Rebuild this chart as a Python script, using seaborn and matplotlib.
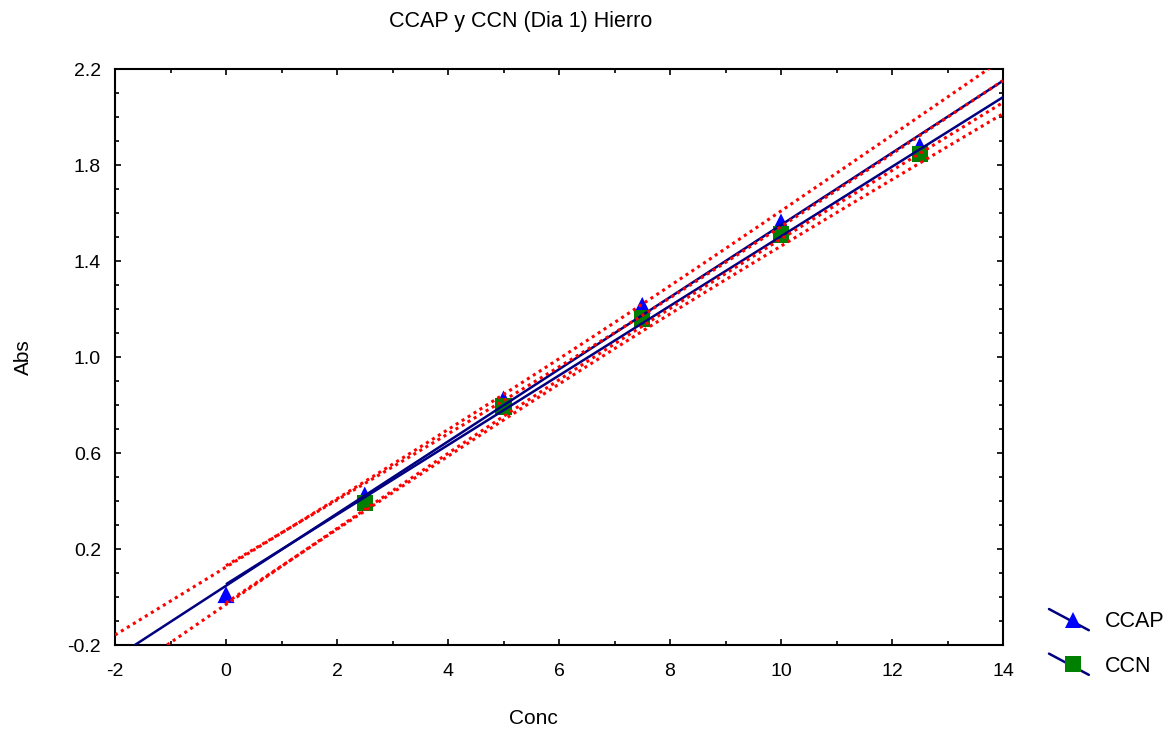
import numpy as np
import pandas as pd
import matplotlib
matplotlib.use("Agg")
import matplotlib.pyplot as plt
import seaborn as sns
from matplotlib.lines import Line2D
from matplotlib.legend_handler import HandlerBase
from matplotlib.ticker import MultipleLocator, FormatStrFormatter

# ---------------- data ----------------
series_names = ["CCAP", "CCN"]
conc_ccap = [0.0, 2.5, 5.0, 7.5, 10.0, 12.5]
abs_ccap = [0.010, 0.425, 0.825, 1.215, 1.5625, 1.880]
conc_ccn = [2.5, 5.0, 7.5, 10.0, 12.5]
abs_ccn = [0.392, 0.794, 1.160, 1.510, 1.846]
fit_ranges = [(-2.0, 14.0), (0.0, 14.0)]
t_crit = [2.776, 3.182]          # 95% two-sided Student t, df = n - 2
x_ticks = [-2, 0, 2, 4, 6, 8, 10, 12, 14]
y_ticks = [-0.2, 0.2, 0.6, 1.0, 1.4, 1.8, 2.2]
title = "CCAP y CCN (Dia 1) Hierro"
x_label = "Conc"
y_label = "Abs"

# ---------------- style ----------------
sns.set_style("ticks")
plt.rcParams["font.family"] = ["Liberation Sans", "DejaVu Sans"]
plt.rcParams["axes.unicode_minus"] = False
plt.rcParams["text.color"] = "black"
plt.rcParams["xtick.color"] = "black"
plt.rcParams["ytick.color"] = "black"
plt.rcParams["xtick.labelcolor"] = "black"
plt.rcParams["ytick.labelcolor"] = "black"

marker_map = {"CCAP": "^", "CCN": "s"}
color_map = {"CCAP": "#0000FF", "CCN": "#008000"}
line_color = "#000080"
band_color = "#FF0000"
band_style = (0, (1.0, 1.3))

fig = plt.figure(figsize=(11.70, 7.31), dpi=100)
ax = fig.add_axes([115 / 1170, 1 - 645 / 731, (1003 - 115) / 1170, (645 - 69) / 731])

df = pd.DataFrame({
    "Conc": conc_ccap + conc_ccn,
    "Abs": abs_ccap + abs_ccn,
    "series": ["CCAP"] * len(conc_ccap) + ["CCN"] * len(conc_ccn),
})

marker_area = {"CCAP": 150, "CCN": 140}
for name in series_names:
    sub = df[df["series"] == name]
    sns.scatterplot(data=sub, x="Conc", y="Abs", marker=marker_map[name],
                    color=color_map[name], s=marker_area[name], linewidth=0,
                    edgecolor="none", ax=ax, zorder=2, legend=False)


def fit_band(x, y, xs, t):
    x = np.asarray(x, float)
    y = np.asarray(y, float)
    n = len(x)
    b, a = np.polyfit(x, y, 1)
    resid = y - (a + b * x)
    s = np.sqrt(np.sum(resid ** 2) / (n - 2))
    sxx = np.sum((x - x.mean()) ** 2)
    yh = a + b * xs
    h = t * s * np.sqrt(1.0 / n + (xs - x.mean()) ** 2 / sxx)
    return yh, yh - h, yh + h


data_sets = [(conc_ccap, abs_ccap), (conc_ccn, abs_ccn)]
for (xv, yv), (lo_x, hi_x), t in zip(data_sets, fit_ranges, t_crit):
    xs = np.linspace(lo_x, hi_x, 300)
    yh, lo, hi = fit_band(xv, yv, xs, t)
    ax.plot(xs, yh, color=line_color, lw=1.8, zorder=3, solid_capstyle="butt")
    ax.plot(xs, lo, color=band_color, lw=2.2, ls=band_style, zorder=4)
    ax.plot(xs, hi, color=band_color, lw=2.2, ls=band_style, zorder=4)

ax.set_xlim(x_ticks[0], x_ticks[-1])
ax.set_ylim(y_ticks[0], y_ticks[-1])
ax.set_xticks(x_ticks)
ax.set_yticks(y_ticks)
ax.xaxis.set_minor_locator(MultipleLocator(1))
ax.yaxis.set_minor_locator(MultipleLocator(0.1))
ax.yaxis.set_major_formatter(FormatStrFormatter("%.1f"))
ax.tick_params(which="both", direction="in", top=True, right=True,
               color="black", width=1.2, labelsize=14, labelcolor="black")
ax.tick_params(axis="x", which="major", pad=13)
ax.tick_params(axis="y", which="major", pad=10)
ax.tick_params(which="major", length=4)
ax.tick_params(which="minor", length=3)
for sp in ax.spines.values():
    sp.set_visible(True)
    sp.set_linewidth(1.5)
    sp.set_color("black")
ax.set_xlabel("")
ax.set_ylabel("")
ax.grid(False)

fig.text(521 / 1170, 1 - 21 / 731, title, ha="center", va="center", fontsize=15.5)
fig.text(533 / 1170, 1 - 718 / 731, x_label, ha="center", va="center", fontsize=15)
fig.text(23 / 1170, 1 - 357 / 731, y_label, ha="center", va="center",
         fontsize=15, rotation=90)


class DiagHandler(HandlerBase):
    def create_artists(self, legend, orig_handle, xdescent, ydescent,
                       width, height, fontsize, trans):
        x0, x1 = -xdescent, width - xdescent
        y0, y1 = height - ydescent, -ydescent
        ln = Line2D([x0, x1], [y0 + 0.05 * height, y1 - 0.05 * height],
                    color=line_color, lw=1.8, transform=trans)
        mk = Line2D([(x0 + x1) / 2 + 3], [(y0 + y1) / 2], linestyle="none",
                    marker=orig_handle.get_marker(),
                    markersize=orig_handle.get_markersize(),
                    markerfacecolor=orig_handle.get_markerfacecolor(),
                    markeredgewidth=0, transform=trans)
        return [ln, mk]


handles = [Line2D([], [], marker=marker_map[n], markersize=11,
                  markerfacecolor=color_map[n], color=line_color)
           for n in series_names]
leg = ax.legend(handles, series_names, handler_map={Line2D: DiagHandler()},
                loc="upper left", bbox_to_anchor=(1049 / 1170, 1 - 610 / 731),
                bbox_transform=fig.transFigure, frameon=False, fontsize=15.5,
                handlelength=1.85, handleheight=1.0, handletextpad=0.75,
                labelspacing=1.05, borderpad=0, borderaxespad=0)
for txt in leg.get_texts():
    txt.set_color("black")

fig.savefig("out.png", dpi=100)
